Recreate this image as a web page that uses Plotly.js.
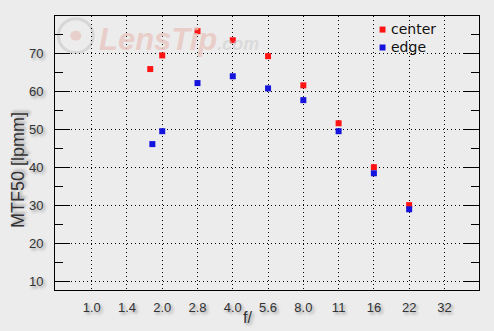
<!DOCTYPE html>
<html>
<head>
<meta charset="utf-8">
<script src="https://cdn.plot.ly/plotly-3.0.1.min.js"></script>
<style>html,body{margin:0;padding:0;background:#ececec;}#chart{width:494px;height:331px;}</style>
</head>
<body>
<div id="chart"></div>
<script>
// Aperture scale (one tick per full stop)
const apertureLabels = ["1.0", "1.4", "2.0", "2.8", "4.0", "5.6", "8.0", "11", "16", "22", "32"];
const apertureStops = [0, 1, 2, 3, 4, 5, 6, 7, 8, 9, 10];

// Measured apertures and their position on the stop scale
const measuredApertures = ["1.8", "2.0", "2.8", "4.0", "5.6", "8.0", "11", "16", "22"];
const centerStop = [1.66, 2, 3, 4, 5, 6, 7, 8, 9];
const edgeStop = [1.72, 2, 3, 4, 5, 6, 7, 8, 9];

// MTF50 values [lpmm]
const centerMTF = [66.0, 69.6, 76.0, 73.6, 69.4, 61.7, 51.7, 40.1, 30.1];
const edgeMTF = [46.2, 49.6, 62.3, 64.1, 60.9, 57.8, 49.6, 38.5, 29.0];

const yMajor = [10, 20, 30, 40, 50, 60, 70];
const yMinor = [15, 25, 35, 45, 55, 65, 75];

const shadow = "2px 2px 3px rgba(0,0,0,0.35)";
const tickFont = {family: "Liberation Sans, Arial, sans-serif", size: 13, color: "#333", shadow: shadow};

const traces = [
  {x: centerStop, y: centerMTF, text: measuredApertures, name: "center", type: "scatter", mode: "markers",
   marker: {symbol: "square", size: 6, color: "#ff1414"}},
  {x: edgeStop, y: edgeMTF, text: measuredApertures, name: "edge", type: "scatter", mode: "markers",
   marker: {symbol: "square", size: 6, color: "#1414dc"}}
];

const layout = {
  width: 494, height: 331,
  margin: {l: 55, r: 15, t: 16, b: 41, pad: 0},
  paper_bgcolor: "#ececec", plot_bgcolor: "#ececec",
  showlegend: false,
  xaxis: {
    range: [-1.04, 10.98], tickmode: "array", tickvals: apertureStops, ticktext: apertureLabels,
    showgrid: true, gridcolor: "#000", gridwidth: 1, griddash: "1px,3px",
    ticks: "", showline: true, linecolor: "#000", linewidth: 1, mirror: true, zeroline: false,
    ticklabelstandoff: 5,
    tickfont: tickFont
  },
  yaxis: {
    range: [7.7, 80], tickmode: "array", tickvals: yMajor,
    showgrid: true, gridcolor: "#000", gridwidth: 1, griddash: "1px,3px",
    ticks: "inside", ticklen: 15, tickcolor: "#000", tickwidth: 1,
    minor: {tickmode: "array", tickvals: yMinor, ticks: "inside", ticklen: 8, tickcolor: "#000", tickwidth: 1, showgrid: false},
    showline: true, linecolor: "#000", linewidth: 1, mirror: "ticks", zeroline: false,
    ticklabelstandoff: 8,
    tickfont: tickFont
  },
  shapes: [
    {type: "circle", xref: "paper", yref: "paper", x0: 0.008, x1: 0.09, y0: 0.866, y1: 0.99,
     line: {color: "rgba(205,205,205,0.7)", width: 3}, layer: "below"},
    {type: "circle", xref: "paper", yref: "paper", x0: 0.036, x1: 0.062, y0: 0.91, y1: 0.946,
     fillcolor: "rgba(230,195,190,0.7)", line: {width: 0}, layer: "below"},
    {type: "rect", xref: "paper", yref: "paper", x0: 0.7655, x1: 0.7795, y0: 0.9395, y1: 0.9615,
     fillcolor: "#ff1414", line: {width: 0}},
    {type: "rect", xref: "paper", yref: "paper", x0: 0.7655, x1: 0.7795, y0: 0.874, y1: 0.896,
     fillcolor: "#1414dc", line: {width: 0}}
  ],
  annotations: [
    {text: "<i><b>LensTip<span style='font-size:18px;fill:rgba(205,205,205,0.75)'>.com</span></b></i>", xref: "paper", yref: "paper",
     x: 0.1, y: 0.915, xanchor: "left", yanchor: "middle",
     showarrow: false, font: {family: "Liberation Sans, Arial, sans-serif", size: 31, color: "rgba(232,195,188,0.75)"}},
    {text: "center", xref: "paper", yref: "paper", x: 0.787, y: 0.953, xanchor: "left", yanchor: "middle",
     showarrow: false, font: {family: "DejaVu Sans, sans-serif", size: 14, color: "#111"}},
    {text: "edge", xref: "paper", yref: "paper", x: 0.787, y: 0.887, xanchor: "left", yanchor: "middle",
     showarrow: false, font: {family: "DejaVu Sans, sans-serif", size: 14, color: "#111"}},
    {text: "MTF50 [lpmm]", textangle: -90, xref: "paper", yref: "paper", x: -0.087, y: 0.438, xanchor: "center", yanchor: "middle",
     showarrow: false, font: {family: "Liberation Sans, Arial, sans-serif", size: 18, color: "#333", shadow: shadow}},
    {text: "f/", xref: "paper", yref: "paper", x: 0.455, y: -0.102, xanchor: "center", yanchor: "middle",
     showarrow: false, font: {family: "Liberation Sans, Arial, sans-serif", size: 16, color: "#333", shadow: shadow}}
  ]
};

Plotly.newPlot("chart", traces, layout, {displayModeBar: false, staticPlot: true});
</script>
</body>
</html>
